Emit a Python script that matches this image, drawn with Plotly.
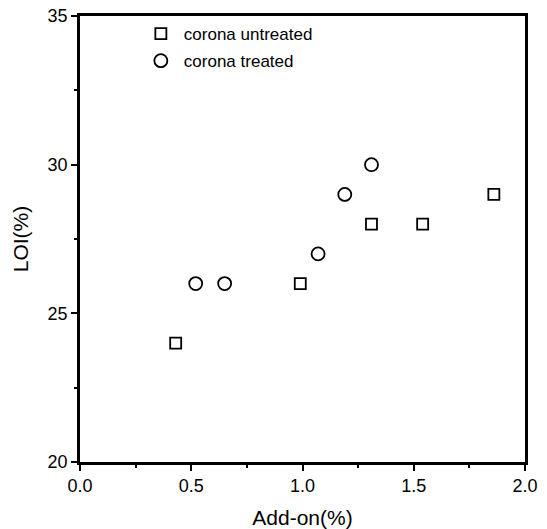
import plotly.graph_objects as go

untreated_x = [0.43, 0.99, 1.31, 1.54, 1.86]
untreated_y = [24, 26, 28, 28, 29]
treated_x = [0.52, 0.65, 1.07, 1.19, 1.31]
treated_y = [26, 26, 27, 29, 30]

x_ticks = [0.0, 0.5, 1.0, 1.5, 2.0]
x_ticklabels = ["0.0", "0.5", "1.0", "1.5", "2.0"]
y_ticks = [20, 25, 30, 35]
y_ticklabels = ["20", "25", "30", "35"]

font_family = "Liberation Sans, Arial, sans-serif"

fig = go.Figure()
fig.add_trace(go.Scatter(
    x=untreated_x, y=untreated_y, mode="markers", name="corona untreated",
    legendgroup="a",
    marker=dict(symbol="square-open", size=11, color="black", line=dict(width=1.8, color="black")),
))
fig.add_trace(go.Scatter(
    x=treated_x, y=treated_y, mode="markers", name="corona treated",
    legendgroup="b",
    marker=dict(symbol="circle-open", size=13, color="black", line=dict(width=1.8, color="black")),
))

axis_common = dict(
    showline=True, linecolor="black", linewidth=2.5, mirror=True,
    ticks="outside", ticklen=6, tickwidth=2, tickcolor="black",
    showgrid=False, zeroline=False, automargin=False,
    tickfont=dict(family=font_family, size=18, color="black"),
    title_font=dict(family=font_family, size=21, color="black"),
)

fig.update_xaxes(
    range=[0, 2], tickvals=x_ticks, ticktext=x_ticklabels,
    title_text="Add-on(%)", title_standoff=16,
    minor=dict(ticks="outside", ticklen=3, tickwidth=2, tickcolor="black", dtick=0.25, showgrid=False),
    **axis_common,
)
fig.update_yaxes(
    range=[20, 35], tickvals=y_ticks, ticktext=y_ticklabels,
    title_text="LOI(%)", title_standoff=14,
    minor=dict(ticks="outside", ticklen=3, tickwidth=2, tickcolor="black", dtick=2.5, showgrid=False),
    **axis_common,
)

fig.update_layout(
    width=547, height=529,
    margin=dict(l=79.5, r=21.5, t=16, b=67),
    paper_bgcolor="white", plot_bgcolor="white",
    showlegend=True,
    legend=dict(
        x=0.13, y=1.0, xanchor="left", yanchor="top",
        bgcolor="rgba(0,0,0,0)", borderwidth=0,
        font=dict(family=font_family, size=17, color="black"),
        itemwidth=36, traceorder="grouped", tracegroupgap=2,
    ),
    font=dict(family=font_family, color="black"),
)

fig.write_html("out.html")
